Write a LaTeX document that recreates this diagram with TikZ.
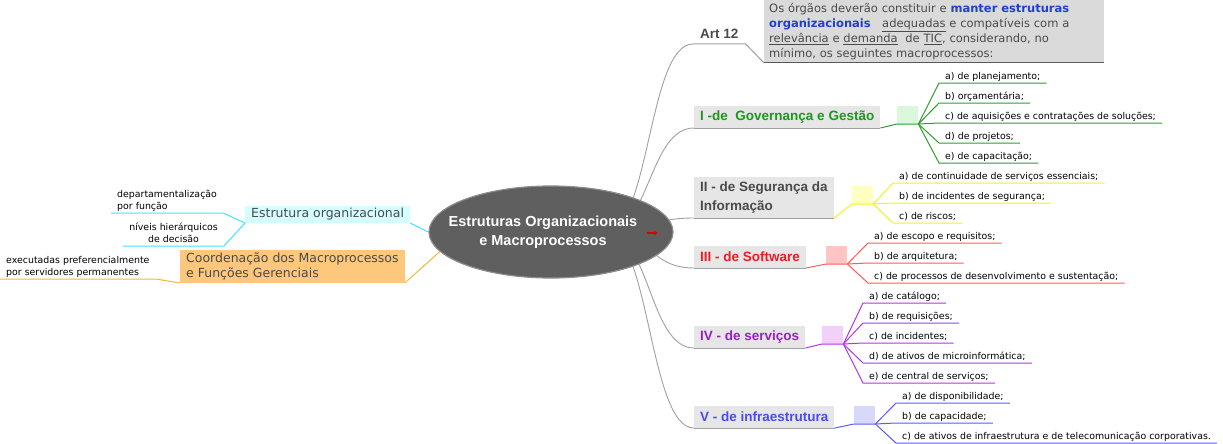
\documentclass[tikz,border=0pt]{standalone}
\usepackage{fontspec}
\setmainfont{DejaVu Sans}
\newfontfamily\headfont{Liberation Sans}
\usetikzlibrary{shapes.geometric,arrows.meta,backgrounds}

\definecolor{coregray}{HTML}{5F5F5F}
\definecolor{coreedge}{HTML}{8C8C8C}
\definecolor{linkgray}{HTML}{A0A0A0}
\definecolor{boxgray}{HTML}{E6E6E6}
\definecolor{artgray}{HTML}{DADADA}
\definecolor{artedge}{HTML}{5A5A5A}
\definecolor{textgray}{HTML}{4A4A4A}
\definecolor{artblue}{HTML}{1F3FD0}
\definecolor{estrfill}{HTML}{D4FFFF}
\definecolor{estrline}{HTML}{3CE6FF}
\definecolor{coordfill}{HTML}{FDC87C}
\definecolor{coordline}{HTML}{F5B53A}
\definecolor{govtext}{HTML}{1B991B}
\definecolor{govline}{HTML}{2E9E2E}
\definecolor{govfill}{HTML}{DCF8DC}
\definecolor{segline}{HTML}{F2F21E}
\definecolor{segfill}{HTML}{FFFFC0}
\definecolor{softtext}{HTML}{EE1C25}
\definecolor{softline}{HTML}{FF5A5A}
\definecolor{softfill}{HTML}{FFC4C4}
\definecolor{servtext}{HTML}{9A1EC8}
\definecolor{servline}{HTML}{B233F2}
\definecolor{servfill}{HTML}{F2D0FA}
\definecolor{infratext}{HTML}{4B4BEF}
\definecolor{infraline}{HTML}{5A5AFF}
\definecolor{infrafill}{HTML}{D8D8FB}

\begin{document}
\begin{tikzpicture}[x=1pt, y=-1pt,
    core/.style={ellipse, fill=coregray, draw=coreedge, line width=1.2pt, minimum width=242pt, minimum height=92pt, inner sep=0pt, text=white, font=\headfont\bfseries\fontsize{14.5}{19}\selectfont},
    hublink/.style={linkgray, line width=0.9pt},
    underl/.style={linkgray, line width=1pt},
    title/.style={fill=boxgray, anchor=south west, inner xsep=6pt, inner ysep=2pt, minimum height=22pt, font=\headfont\bfseries\fontsize{13.5}{19}\selectfont},
    sqr/.style={anchor=south west, minimum width=21pt, minimum height=18pt, inner sep=0pt},
    item/.style={anchor=south west, inner xsep=6pt, inner ysep=1.5pt, text depth=2pt, font=\fontsize{9.4}{12}\selectfont},
    leftbox/.style={anchor=south west, inner xsep=6pt, inner ysep=2pt, text=textgray, font=\fontsize{12.5}{15}\selectfont},
    estrlink/.style={estrline, line width=1pt},
    coordlink/.style={coordline, line width=1pt},
    govlink/.style={govline, line width=1pt},
    seglink/.style={segline, line width=1pt},
    softlink/.style={softline, line width=1pt},
    servlink/.style={servline, line width=1pt},
    infralink/.style={infraline, line width=1pt}]
    \useasboundingbox (0,0) rectangle (1223,444);
    % centre
    \node[core] (core) at (551,232) {\kern-16pt\begin{tabular}{@{}c@{}}Estruturas Organizacionais\\e Macroprocessos\end{tabular}};
    \coordinate (hub) at (605,232);
    \draw[-{Stealth[length=3.5pt,width=4.5pt]}, red!85!black, line width=1.2pt] ([xshift=-27pt,yshift=-1pt]core.east) -- ++(11,0);
    % Art 12
    \node[anchor=south west, inner xsep=7pt, inner ysep=5pt, text=textgray, font=\headfont\bfseries\fontsize{13.5}{16}\selectfont] (art) at (693,44) {Art 12};
    \node[anchor=north west, fill=artgray, text width=330pt, align=left, inner xsep=5pt, inner ysep=3pt, minimum height=62pt, text=textgray, font=\fontsize{11.5}{15}\selectfont] (artbox) at (764,0) {Os órgãos deverão constituir e \textcolor{artblue}{\bfseries manter estruturas}\\
        \textcolor{artblue}{\bfseries organizacionais}\ \ \ \underline{adequadas} e compatíveis com a\\
        \underline{relevância} e \underline{demanda}\ \ de \underline{TIC}, considerando, no\\
        mínimo, os seguintes macroprocessos:};
    \draw[underl] (art.south west) -- (art.south east) -- (artbox.south west);
    \draw[artedge, line width=1pt] (artbox.south west) -- (artbox.south east);
    % I - Governanca
    \node[title, text=govtext] (gov) at (694,128) {I -de~ Governança e Gestão};
    \node[sqr, fill=govfill] (govsq) at (897,124) {};
    \node[item] (gov1) at (939,83) {a) de planejamento;};
    \node[item] (gov2) at (939,103) {b) orçamentária;};
    \node[item] (gov3) at (939,123) {c) de aquisições e contratações de soluções;};
    \node[item] (gov4) at (939,143) {d) de projetos;};
    \node[item] (gov5) at (939,163) {e) de capacitação;};
    \draw[underl] (gov.south west) -- (gov.south east);
    \draw[govlink] (gov.south east) -- (govsq.south west) -- (govsq.south east);
    \draw[govlink] (govsq.south east) -- (gov1.south west) -- (gov1.south east);
    \draw[govlink] (govsq.south east) -- (gov2.south west) -- (gov2.south east);
    \draw[govlink] (govsq.south east) -- (gov3.south west) -- (gov3.south east);
    \draw[govlink] (govsq.south east) -- (gov4.south west) -- (gov4.south east);
    \draw[govlink] (govsq.south east) -- (gov5.south west) -- (gov5.south east);
    % II - Seguranca
    \node[title, text=textgray, align=left, minimum height=41pt] (seg) at (694,218) {II - de Segurança da\\Informação};
    \node[sqr, fill=segfill] (segsq) at (852,204) {};
    \node[item] (seg1) at (893,183) {a) de continuidade de serviços essenciais;};
    \node[item] (seg2) at (893,203) {b) de incidentes de segurança;};
    \node[item] (seg3) at (893,223) {c) de riscos;};
    \draw[underl] (seg.south west) -- (seg.south east);
    \draw[seglink] (seg.south east) -- (segsq.south west) -- (segsq.south east);
    \draw[seglink] (segsq.south east) -- (seg1.south west) -- (seg1.south east);
    \draw[seglink] (segsq.south east) -- (seg2.south west) -- (seg2.south east);
    \draw[seglink] (segsq.south east) -- (seg3.south west) -- (seg3.south east);
    % III - Software
    \node[title, text=softtext] (soft) at (694,268) {III - de Software};
    \node[sqr, fill=softfill] (softsq) at (826,264) {};
    \node[item] (soft1) at (868,243) {a) de escopo e requisitos;};
    \node[item] (soft2) at (868,263) {b) de arquitetura;};
    \node[item] (soft3) at (868,283) {c) de processos de desenvolvimento e sustentação;};
    \draw[underl] (soft.south west) -- (soft.south east);
    \draw[softlink] (soft.south east) -- (softsq.south west) -- (softsq.south east);
    \draw[softlink] (softsq.south east) -- (soft1.south west) -- (soft1.south east);
    \draw[softlink] (softsq.south east) -- (soft2.south west) -- (soft2.south east);
    \draw[softlink] (softsq.south east) -- (soft3.south west) -- (soft3.south east);
    % IV - servicos
    \node[title, text=servtext] (serv) at (694,348) {IV - de serviços};
    \node[sqr, fill=servfill] (servsq) at (822,344) {};
    \node[item] (serv1) at (863,303) {a) de catálogo;};
    \node[item] (serv2) at (863,323) {b) de requisições;};
    \node[item] (serv3) at (863,343) {c) de incidentes;};
    \node[item] (serv4) at (863,363) {d) de ativos de microinformática;};
    \node[item] (serv5) at (863,383) {e) de central de serviços;};
    \draw[underl] (serv.south west) -- (serv.south east);
    \draw[servlink] (serv.south east) -- (servsq.south west) -- (servsq.south east);
    \draw[servlink] (servsq.south east) -- (serv1.south west) -- (serv1.south east);
    \draw[servlink] (servsq.south east) -- (serv2.south west) -- (serv2.south east);
    \draw[servlink] (servsq.south east) -- (serv3.south west) -- (serv3.south east);
    \draw[servlink] (servsq.south east) -- (serv4.south west) -- (serv4.south east);
    \draw[servlink] (servsq.south east) -- (serv5.south west) -- (serv5.south east);
    % V - infraestrutura
    \node[title, text=infratext] (infra) at (694,428) {V - de infraestrutura};
    \node[sqr, fill=infrafill] (infrasq) at (854,424) {};
    \node[item] (infra1) at (896,403) {a) de disponibilidade;};
    \node[item] (infra2) at (896,423) {b) de capacidade;};
    \node[item] (infra3) at (896,443) {c) de ativos de infraestrutura e de telecomunicação corporativas.};
    \draw[underl] (infra.south west) -- (infra.south east);
    \draw[infralink] (infra.south east) -- (infrasq.south west) -- (infrasq.south east);
    \draw[infralink] (infrasq.south east) -- (infra1.south west) -- (infra1.south east);
    \draw[infralink] (infrasq.south east) -- (infra2.south west) -- (infra2.south east);
    \draw[infralink] (infrasq.south east) -- (infra3.south west) -- (infra3.south east);
    % left side
    \node[leftbox, fill=estrfill, minimum height=17pt] (estr) at (245,223) {Estrutura organizacional};
    \node[leftbox, fill=coordfill, align=left, minimum height=33pt] (coord) at (180,283) {Coordenação dos Macroprocessos\\e Funções Gerenciais};
    \node[item, align=left] (dep) at (111,213) {departamentalização\\por função};
    \node[item, anchor=south east, align=center] (niv) at (224,246) {níveis hierárquicos\\de decisão};
    \node[item, align=left] (exe) at (0,279) {executadas preferencialmente\\por servidores permanentes};
    \draw[estrlink] (estr.south west) -- (dep.south east) -- (dep.south west);
    \draw[estrlink] (estr.south west) -- (niv.south east) -- (niv.south west);
    \draw[coordlink] (coord.south west) -- (exe.south east) -- (exe.south west);
    % links behind the centre
    \begin{scope}[on background layer]
        \draw[hublink] (hub) .. controls +(45,0) and +(-45,0) .. (art.south west);
        \draw[hublink] (hub) .. controls +(45,0) and +(-45,0) .. (gov.south west);
        \draw[hublink] (hub) .. controls +(45,0) and +(-45,0) .. (seg.south west);
        \draw[hublink] (hub) .. controls +(45,0) and +(-45,0) .. (soft.south west);
        \draw[hublink] (hub) .. controls +(45,0) and +(-45,0) .. (serv.south west);
        \draw[hublink] (hub) .. controls +(45,0) and +(-45,0) .. (infra.south west);
        \draw[estrlink] (estr.south east) -- (core.west);
        \draw[coordlink] (coord.south east) -- (core.190);
    \end{scope}
\end{tikzpicture}
\end{document}
